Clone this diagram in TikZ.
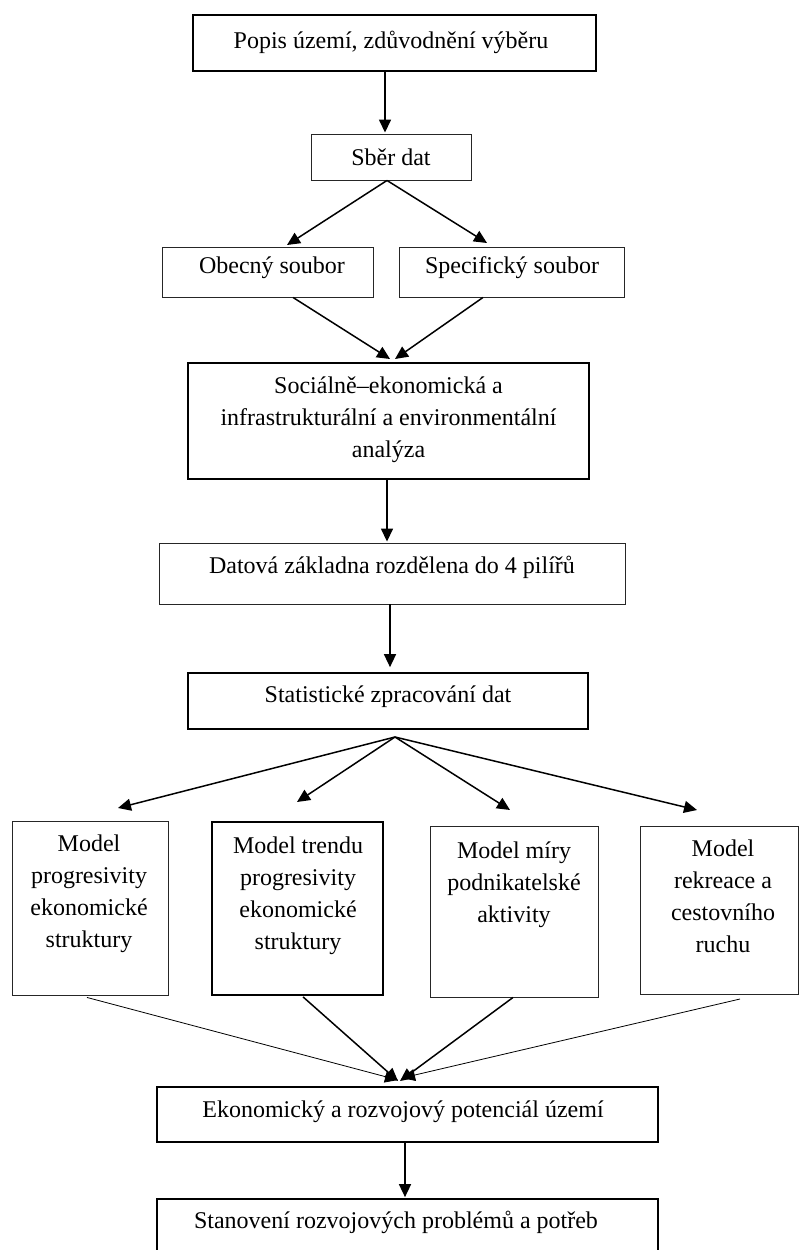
\documentclass[tikz,border=0pt]{standalone}
\usepackage{fontspec}
\setmainfont{Liberation Serif}
\usetikzlibrary{arrows.meta}
\begin{document}
\begin{tikzpicture}[x=1pt,y=-1pt,
  box/.style={draw, rectangle, inner sep=0pt},
  thickbox/.style={box, line width=1.7pt},
  thinbox/.style={box, line width=0.9pt, draw=black!85},
  lbl/.style={inner sep=0pt, align=center, font=\fontsize{24pt}{32pt}\selectfont},
  flow/.style={line width=1.5pt, -{Triangle[length=13pt,width=12pt]}},
  faint/.style={line width=0.8pt, -{Triangle[length=13pt,width=12pt]}}]

\path[use as bounding box, clip] (0,0) rectangle (799,1250);

% boxes of the main column
\node[thickbox, minimum width=403pt, minimum height=56pt] (popis) at (394.5,43) {};
\node[lbl] (popis-t) at (391,42) {Popis území, zdůvodnění výběru};

\node[thinbox, minimum width=160pt, minimum height=46pt] (sber) at (391,157) {};
\node[lbl] (sber-t) at (391,157) {Sběr dat};

\node[thinbox, minimum width=211pt, minimum height=50pt] (obecny) at (267.5,272) {};
\node[lbl] (obecny-t) at (272,268) {Obecný soubor};

\node[thinbox, minimum width=225pt, minimum height=50pt] (spec) at (511.5,272) {};
\node[lbl] (spec-t) at (512,268) {Specifický soubor};

\node[thickbox, minimum width=401pt, minimum height=116pt] (soc) at (388.5,421) {};
\node[lbl] (soc-t) at (388.5,420) {Sociálně–ekonomická a\\infrastrukturální a environmentální\\analýza};

\node[thinbox, minimum width=466pt, minimum height=61pt] (datova) at (392,573.5) {};
\node[lbl] (datova-t) at (392,567) {Datová základna rozdělena do 4 pilířů};

\node[thickbox, minimum width=400pt, minimum height=56pt] (stat) at (388,701) {};
\node[lbl] (stat-t) at (388,697) {Statistické zpracování dat};

% the four models
\node[thinbox, minimum width=156pt, minimum height=174pt] (m1) at (90,908) {};
\node[lbl, anchor=north] (m1-t) at (89,835) {Model\\progresivity\\ekonomické\\struktury};

\node[thickbox, minimum width=171pt, minimum height=173pt] (m2) at (297.5,908.5) {};
\node[lbl, anchor=north] (m2-t) at (298,837) {Model trendu\\progresivity\\ekonomické\\struktury};

\node[thinbox, minimum width=168pt, minimum height=171pt] (m3) at (514,911.5) {};
\node[lbl, anchor=north] (m3-t) at (514,842) {Model míry\\podnikatelské\\aktivity};

\node[thinbox, minimum width=158pt, minimum height=168pt] (m4) at (719,910) {};
\node[lbl, anchor=north] (m4-t) at (723,840) {Model\\rekreace a\\cestovního\\ruchu};

% results
\node[thickbox, minimum width=501pt, minimum height=55pt] (eko) at (407.5,1114.5) {};
\node[lbl] (eko-t) at (403,1112) {Ekonomický a rozvojový potenciál území};

\node[thickbox, minimum width=501pt, minimum height=63pt] (stan) at (407.5,1230.5) {};
\node[lbl] (stan-t) at (396,1222) {Stanovení rozvojových problémů a potřeb};

% free ends of the connectors
\coordinate (toObecny) at (287,245);
\coordinate (toSpec) at (487,243);
\coordinate (toSocL) at (390,359);
\coordinate (toSocR) at (395,359);
\coordinate (fan) at (395,737);
\coordinate (toM1) at (118,808);
\coordinate (toM2) at (297,802);
\coordinate (toM3) at (510,810);
\coordinate (toM4) at (697,810);
\coordinate (fromM4) at (740,999);
\coordinate (meetA) at (398,1080);
\coordinate (meetB) at (398,1081);
\coordinate (meetC) at (400,1081);
\coordinate (meetD) at (402,1078);

% connectors
\draw[flow] (popis.south -| 385,0) -- ([yshift=1pt]sber.north -| 385,0);
\draw[flow] ([xshift=-4pt]sber.south) -- (toObecny);
\draw[flow] ([xshift=-4pt]sber.south) -- (toSpec);
\draw[flow] ([xshift=25.5pt]obecny.south) -- (toSocL);
\draw[flow] ([xshift=-28.5pt]spec.south) -- (toSocR);
\draw[flow] (soc.south -| 387,0) -- ([yshift=1pt]datova.north -| 387,0);
\draw[flow] (datova.south -| 390,0) -- ([yshift=5pt]stat.north -| 390,0);
\draw[flow] (fan) -- (toM1);
\draw[flow] (fan) -- (toM2);
\draw[flow] (fan) -- (toM3);
\draw[flow] (fan) -- (toM4);
\draw[faint] ([xshift=-3pt,yshift=-2pt]m1.south) -- (meetA);
\draw[flow] ([xshift=5.5pt,yshift=-1pt]m2.south) -- (meetB);
\draw[flow] ([xshift=-1pt]m3.south) -- (meetC);
\draw[faint] (fromM4) -- (meetD);
\draw[flow] (eko.south -| 405,0) -- ([yshift=1pt]stan.north -| 405,0);
\end{tikzpicture}
\end{document}
